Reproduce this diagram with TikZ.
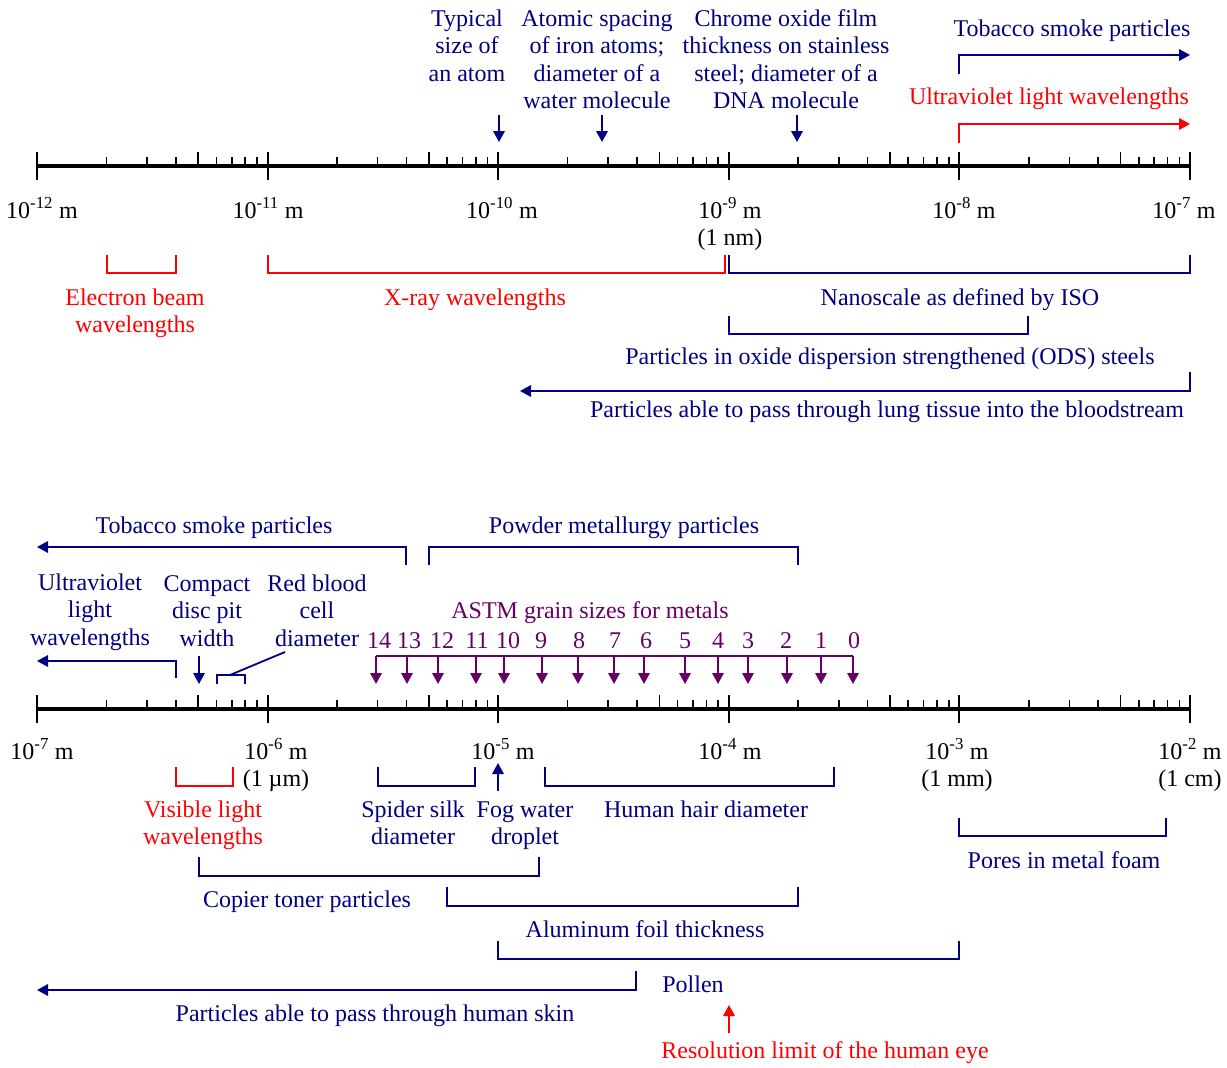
\documentclass[tikz,border=0pt]{standalone}
\usepackage{fontspec}
\setmainfont{Liberation Serif}
\usetikzlibrary{arrows.meta}
\definecolor{scaleblue}{RGB}{0,0,128}
\definecolor{scalered}{RGB}{255,0,0}
\definecolor{grainpurple}{RGB}{102,0,102}

\begin{document}
\begin{tikzpicture}[
            x=1pt, y=-1pt,
            >={Triangle[length=11pt,width=11.5pt]},
            txt/.style={font=\fontsize{24}{27.5}\selectfont, inner sep=0pt, anchor=base, align=center},
            blue txt/.style={txt, text=scaleblue},
            red txt/.style={txt, text=scalered},
            purple txt/.style={txt, text=grainpurple},
            bline/.style={draw=scaleblue, line width=1.8pt},
            rline/.style={draw=scalered, line width=1.8pt},
            pline/.style={draw=grainpurple, line width=1.8pt},
            scale line/.style={line width=3.5pt},
            decade tick/.style={line width=2pt},
            minor tick/.style={line width=1.6pt},
            ubracket/.style={to path={-- ++(0,#1) -| (\tikztotarget)}},
            ubracket/.default=18,
            nbracket/.style={to path={-- ++(0,-#1) -| (\tikztotarget)}},
            nbracket/.default=18
        ]
            \useasboundingbox (0,0) rectangle (1227,1068);

            % the two logarithmic scales
            \foreach \y in {166,709} {
                \draw[scale line] (37,\y) -- (1190,\y);
                \foreach \d in {0,...,5}
                    \draw[decade tick] ({37+230.6*\d},\y-14) -- ++(0,28);
                \foreach \d in {0,...,4}
                    \foreach \m in {2,...,9} {
                        \pgfmathsetmacro\len{(\m==5) ? 14 : 9}
                        \draw[minor tick] ({37+230.6*(\d+log10(\m))},\y) -- ++(0,-\len);
                    }
            }

            % top scale: 10^-12 m to 10^-7 m (multi-line nodes sit on their last line)
            \node[txt] (t12) at (42,218) {10\textsuperscript{-12} m};
            \node[txt] (t11) at (268,218) {10\textsuperscript{-11} m};
            \node[txt] (t10) at (502,218) {10\textsuperscript{-10} m};
            \node[txt] (t9) at (730,245.5) {10\textsuperscript{-9} m\\(1 nm)};
            \node[txt] (t8) at (964,218) {10\textsuperscript{-8} m};
            \node[txt] (t7) at (1184,218) {10\textsuperscript{-7} m};

            \node[blue txt] (atom) at (467,81) {Typical\\size of\\an atom};
            \node[blue txt] (iron) at (597,108.5) {Atomic spacing\\of iron atoms;\\diameter of a\\water molecule};
            \node[blue txt] (chrome) at (786,108.5) {Chrome oxide film\\thickness on stainless\\steel; diameter of a\\DNA molecule};
            \coordinate (atom-a) at (499,115);   \coordinate (atom-b) at (499,142);
            \coordinate (iron-a) at (602,115);   \coordinate (iron-b) at (602,142);
            \coordinate (chrome-a) at (797,115); \coordinate (chrome-b) at (797,142);
            \draw[bline,->] (atom-a) -- (atom-b);
            \draw[bline,->] (iron-a) -- (iron-b);
            \draw[bline,->] (chrome-a) -- (chrome-b);

            \node[blue txt] (smoke1) at (1072,36) {Tobacco smoke particles};
            \coordinate (smoke1-a) at (959,74); \coordinate (smoke1-b) at (1190,55);
            \draw[bline,->] (smoke1-a) |- (smoke1-b);
            \node[red txt] (uv1) at (1049,104) {Ultraviolet light wavelengths};
            \coordinate (uv1-a) at (959,143); \coordinate (uv1-b) at (1190,124);
            \draw[rline,->] (uv1-a) |- (uv1-b);

            \coordinate (ebeam-l) at (107,255); \coordinate (ebeam-r) at (176,255);
            \draw[rline] (ebeam-l) to[ubracket] (ebeam-r);
            \node[red txt] (ebeam) at (135,332.5) {Electron beam\\wavelengths};
            \coordinate (xray-l) at (268,255); \coordinate (xray-r) at (725,255);
            \draw[rline] (xray-l) to[ubracket] (xray-r);
            \node[red txt] (xray) at (475,305) {X-ray wavelengths};
            \coordinate (iso-l) at (729,255); \coordinate (iso-r) at (1190,255);
            \draw[bline] (iso-l) to[ubracket] (iso-r);
            \node[blue txt] (iso) at (960,305) {Nanoscale as defined by ISO};
            \coordinate (ods-l) at (729,316); \coordinate (ods-r) at (1028,316);
            \draw[bline] (ods-l) to[ubracket] (ods-r);
            \node[blue txt] (ods) at (890,364) {Particles in oxide dispersion strengthened (ODS) steels};
            \coordinate (lung-a) at (1190,372); \coordinate (lung-b) at (520,391);
            \draw[bline,->] (lung-a) |- (lung-b);
            \node[blue txt] (lung) at (887,417) {Particles able to pass through lung tissue into the bloodstream};

            % bottom scale: 10^-7 m to 10^-2 m
            \node[txt] (b7) at (42,759) {10\textsuperscript{-7} m};
            \node[txt] (b6) at (276,786.5) {10\textsuperscript{-6} m\\(1 µm)};
            \node[txt] (b5) at (503,759) {10\textsuperscript{-5} m};
            \node[txt] (b4) at (730,759) {10\textsuperscript{-4} m};
            \node[txt] (b3) at (957,786.5) {10\textsuperscript{-3} m\\(1 mm)};
            \node[txt] (b2) at (1190,786.5) {10\textsuperscript{-2} m\\(1 cm)};

            \node[blue txt] (smoke2) at (214,533) {Tobacco smoke particles};
            \coordinate (smoke2-a) at (406,565); \coordinate (smoke2-b) at (37,547);
            \draw[bline,->] (smoke2-a) |- (smoke2-b);
            \node[blue txt] (powder) at (624,533) {Powder metallurgy particles};
            \coordinate (powder-l) at (429,565); \coordinate (powder-r) at (798,565);
            \draw[bline] (powder-l) to[nbracket] (powder-r);

            \node[blue txt] (uv2) at (90,645) {Ultraviolet\\light\\wavelengths};
            \coordinate (uv2-a) at (176,678); \coordinate (uv2-b) at (37,661);
            \draw[bline,->] (uv2-a) |- (uv2-b);
            \node[blue txt] (cd) at (207,646) {Compact\\disc pit\\width};
            \coordinate (cd-a) at (199,656); \coordinate (cd-b) at (199,684);
            \draw[bline,->] (cd-a) -- (cd-b);
            \node[blue txt] (rbc) at (317,646) {Red blood\\cell\\diameter};
            \coordinate (rbc-l) at (217,684); \coordinate (rbc-r) at (245,684);
            \coordinate (rbc-m) at (230,675); \coordinate (rbc-t) at (285,652);
            \draw[bline] (rbc-l) to[nbracket=9] (rbc-r);
            \draw[bline] (rbc-m) -- (rbc-t);

            % ASTM grain size numbers
            \node[purple txt] (astm) at (590,618) {ASTM grain sizes for metals};
            \coordinate (astm-l) at (376,656); \coordinate (astm-r) at (853,656);
            \draw[pline] (astm-l) -- (astm-r);
            \foreach \g/\xa/\xt in {14/376/379, 13/407/409, 12/438/442, 11/476/477, 10/504/508,
                                    9/542/541, 8/578/579, 7/614/615, 6/644/646, 5/685/685,
                                    4/718/718, 3/748/748, 2/787/786, 1/821/821, 0/853/854} {
                \node[purple txt] (g\g) at (\xt,648) {\g};
                \coordinate (g\g-a) at (\xa,656); \coordinate (g\g-b) at (\xa,684);
                \draw[pline,->] (g\g-a) -- (g\g-b);
            }

            \coordinate (vis-l) at (176,767); \coordinate (vis-r) at (233,767);
            \draw[rline] (vis-l) to[ubracket=19] (vis-r);
            \node[red txt] (vis) at (203,844.5) {Visible light\\wavelengths};
            \coordinate (silk-l) at (378,767); \coordinate (silk-r) at (475,767);
            \draw[bline] (silk-l) to[ubracket=19] (silk-r);
            \node[blue txt] (silk) at (413,844.5) {Spider silk\\diameter};
            \coordinate (fog-a) at (498,791); \coordinate (fog-b) at (498,763);
            \draw[bline,->] (fog-a) -- (fog-b);
            \node[blue txt] (fog) at (525,844.5) {Fog water\\droplet};
            \coordinate (hair-l) at (545,767); \coordinate (hair-r) at (834,767);
            \draw[bline] (hair-l) to[ubracket=19] (hair-r);
            \node[blue txt] (hair) at (706,817) {Human hair diameter};
            \coordinate (foam-l) at (959,818); \coordinate (foam-r) at (1166,818);
            \draw[bline] (foam-l) to[ubracket] (foam-r);
            \node[blue txt] (foam) at (1064,868) {Pores in metal foam};
            \coordinate (toner-l) at (199,857); \coordinate (toner-r) at (539,857);
            \draw[bline] (toner-l) to[ubracket=19] (toner-r);
            \node[blue txt] (toner) at (307,907) {Copier toner particles};
            \coordinate (foil-l) at (447,887); \coordinate (foil-r) at (798,887);
            \draw[bline] (foil-l) to[ubracket=19] (foil-r);
            \node[blue txt] (foil) at (645,937) {Aluminum foil thickness};
            \coordinate (pollen-l) at (498,941); \coordinate (pollen-r) at (959,941);
            \draw[bline] (pollen-l) to[ubracket] (pollen-r);
            \node[blue txt] (pollen) at (693,992) {Pollen};
            \coordinate (skin-a) at (636,971); \coordinate (skin-b) at (37,990);
            \draw[bline,->] (skin-a) |- (skin-b);
            \node[blue txt] (skin) at (375,1021) {Particles able to pass through human skin};
            \coordinate (eye-a) at (729,1033); \coordinate (eye-b) at (729,1005);
            \draw[rline,->] (eye-a) -- (eye-b);
            \node[red txt] (eye) at (825,1058) {Resolution limit of the human eye};
        \end{tikzpicture}
\end{document}
